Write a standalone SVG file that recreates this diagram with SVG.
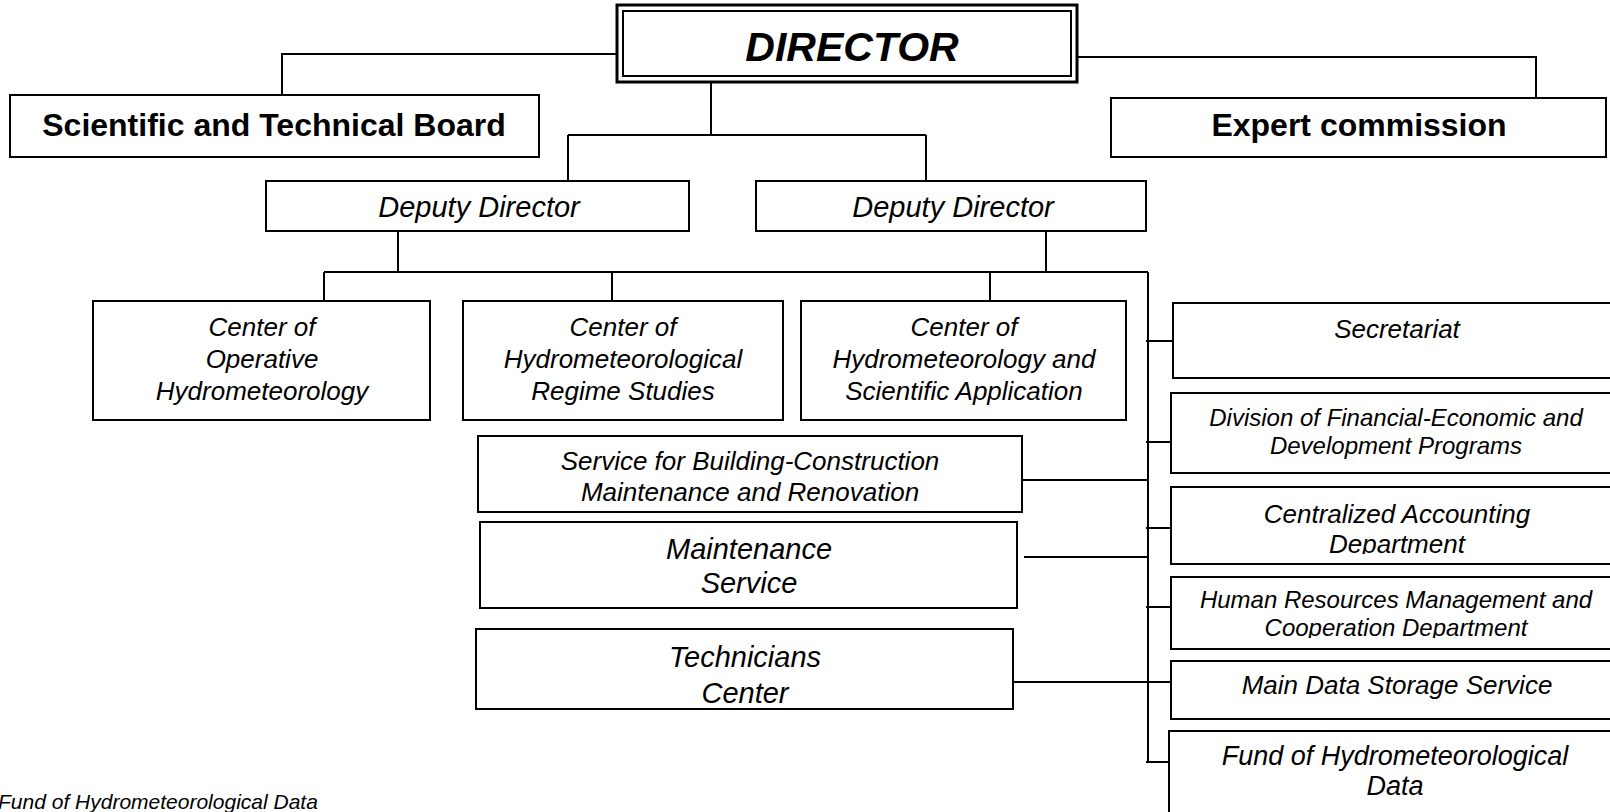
<svg xmlns="http://www.w3.org/2000/svg" width="1610" height="812" viewBox="0 0 1610 812">
<style>
.box{fill:#fff;stroke:#000;stroke-width:2}
.ln{fill:none;stroke:#000;stroke-width:2}
.t{font-family:"Liberation Sans",Arial,sans-serif;fill:#000;text-anchor:middle}
.b{font-weight:bold}
.i{font-style:italic}
</style>
<defs>
<clipPath id="cpAcc"><rect x="1172" y="488" width="440" height="66"/></clipPath>
<clipPath id="cpHR"><rect x="1172" y="578" width="440" height="60"/></clipPath>
<clipPath id="cpTech"><rect x="476" y="629" width="537" height="77"/></clipPath>
<clipPath id="cpFoot"><rect x="0" y="780" width="400" height="32"/></clipPath>
</defs>
<rect width="1610" height="812" fill="#fff"/>
<g id="connectors">
<path class="ln" d="M617,54 H282 V95"/>
<path class="ln" d="M1077,57 H1536 V98"/>
<path class="ln" d="M711,82 V135 M568,135 H926 M568,135 V181 M926,135 V181"/>
<path class="ln" d="M398,231 V272 M1046,231 V272 M324,272 H1148 M324,272 V301 M612,272 V301 M990,272 V301"/>
<path class="ln" d="M1148,272 V762"/>
<path class="ln" d="M1146,341 H1173 M1146,442 H1171 M1146,528 H1171 M1146,607 H1171 M1146,682 H1171 M1146,762 H1169"/>
<path class="ln" d="M1022,480 H1148 M1024,557 H1148 M1014,682 H1148"/>
</g>
<g id="director">
<rect x="617" y="5" width="460" height="77" fill="#fff" stroke="#000" stroke-width="3"/>
<rect x="623" y="11" width="448" height="65" fill="none" stroke="#000" stroke-width="2"/>
<text class="t b i" x="852" y="61" font-size="41">DIRECTOR</text>
</g>
<g id="sci-board">
<rect class="box" x="10" y="95" width="529" height="62"/>
<text class="t b" x="274" y="136" font-size="32">Scientific and Technical Board</text>
</g>
<g id="expert">
<rect class="box" x="1111" y="98" width="495" height="59"/>
<text class="t b" x="1359" y="136" font-size="32">Expert commission</text>
</g>
<g id="deputy-a">
<rect class="box" x="266" y="181" width="423" height="50"/>
<text class="t i" x="479" y="217" font-size="29">Deputy Director</text>
</g>
<g id="deputy-b">
<rect class="box" x="756" y="181" width="390" height="50"/>
<text class="t i" x="953" y="217" font-size="29">Deputy Director</text>
</g>
<g id="center-operative">
<rect class="box" x="93" y="301" width="337" height="119"/>
<text class="t i" x="262" y="336" font-size="26">Center of</text>
<text class="t i" x="262" y="368" font-size="26">Operative</text>
<text class="t i" x="262" y="400" font-size="26">Hydrometeorology</text>
</g>
<g id="center-regime">
<rect class="box" x="463" y="301" width="320" height="119"/>
<text class="t i" x="623" y="336" font-size="26">Center of</text>
<text class="t i" x="623" y="368" font-size="26">Hydrometeorological</text>
<text class="t i" x="623" y="400" font-size="26">Regime Studies</text>
</g>
<g id="center-scientific">
<rect class="box" x="801" y="301" width="325" height="119"/>
<text class="t i" x="964" y="336" font-size="26">Center of</text>
<text class="t i" x="964" y="368" font-size="26">Hydrometeorology and</text>
<text class="t i" x="964" y="400" font-size="26">Scientific Application</text>
</g>
<g id="building-service">
<rect class="box" x="478" y="436" width="544" height="76"/>
<text class="t i" x="750" y="470" font-size="26">Service for Building-Construction</text>
<text class="t i" x="750" y="501" font-size="26">Maintenance and Renovation</text>
</g>
<g id="maintenance-service">
<rect class="box" x="480" y="522" width="537" height="86"/>
<text class="t i" x="749" y="559" font-size="29">Maintenance</text>
<text class="t i" x="749" y="593" font-size="29">Service</text>
</g>
<g id="technicians-center">
<rect class="box" x="476" y="629" width="537" height="80"/>
<text class="t i" x="745" y="667" font-size="29">Technicians</text>
<text class="t i" x="745" y="703" font-size="29" clip-path="url(#cpTech)">Center</text>
</g>
<g id="secretariat">
<rect class="box" x="1173" y="303" width="450" height="75"/>
<text class="t i" x="1397" y="338" font-size="26">Secretariat</text>
</g>
<g id="financial-division">
<rect class="box" x="1171" y="393" width="452" height="80"/>
<text class="t i" x="1396" y="426" font-size="24">Division of Financial-Economic and</text>
<text class="t i" x="1396" y="454" font-size="24">Development Programs</text>
</g>
<g id="accounting">
<rect class="box" x="1171" y="487" width="452" height="77"/>
<text class="t i" x="1397" y="523" font-size="26">Centralized Accounting</text>
<text class="t i" x="1397" y="553" font-size="26" clip-path="url(#cpAcc)">Department</text>
</g>
<g id="human-resources">
<rect class="box" x="1171" y="577" width="452" height="72"/>
<text class="t i" x="1396" y="608" font-size="24">Human Resources Management and</text>
<text class="t i" x="1396" y="636" font-size="24" clip-path="url(#cpHR)">Cooperation Department</text>
</g>
<g id="main-data-storage">
<rect class="box" x="1171" y="661" width="452" height="58"/>
<text class="t i" x="1397" y="694" font-size="26">Main Data Storage Service</text>
</g>
<g id="fund-data">
<rect class="box" x="1169" y="731" width="454" height="100"/>
<text class="t i" x="1395" y="765" font-size="27">Fund of Hydrometeorological</text>
<text class="t i" x="1395" y="795" font-size="27">Data</text>
</g>
<g id="footnote">
<text class="i" x="-2" y="809" font-size="21" font-family="Liberation Sans, Arial, sans-serif" clip-path="url(#cpFoot)">Fund of Hydrometeorological Data</text>
</g>
</svg>
